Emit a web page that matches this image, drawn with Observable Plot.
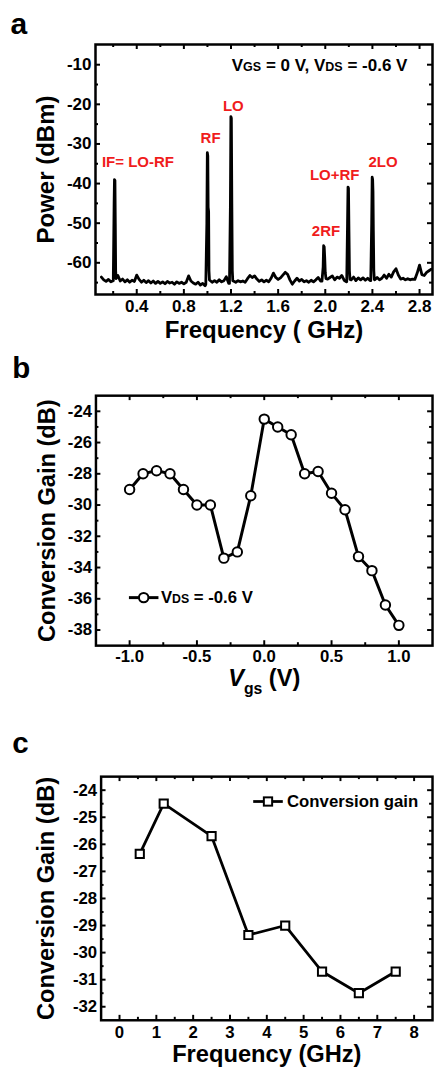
<!DOCTYPE html>
<html><head><meta charset="utf-8">
<script src="https://cdn.jsdelivr.net/npm/d3@7"></script>
<script src="https://cdn.jsdelivr.net/npm/@observablehq/plot@0.6"></script>
<style>
html,body{margin:0;padding:0;background:#fff;overflow:hidden;}
#wrap{position:relative;width:434px;height:1071px;overflow:hidden;background:#fff;}
#wrap svg{position:absolute;left:0;overflow:visible;}
</style></head><body><div id="wrap"></div>
<script>
// ---------- Panel a : spectrum ----------
const baseStart = 0.10, baseStep = 0.02;
const basePower = [
 -63.6,-64.3,-64.7,-64.2,-64.8,-64.5,null,-63.2,-64.6,-64.1,
 -64.8,-64.3,-64.9,-64.4,-64.7,-63.1,-64.2,-64.9,-64.4,-65.0,
 -64.5,-65.1,-64.6,-65.2,-64.7,-65.2,-64.8,-65.3,-64.7,-65.1,
 -64.9,-65.4,-64.8,-65.2,-64.9,-65.3,-64.9,-63.3,-64.6,-65.1,
 -65.4,-64.9,-65.6,-65.2,-65.8,null,-64.4,-64.9,-64.5,-64.9,
 -64.3,-64.8,-64.5,-63.5,-65.2,null,-64.6,-64.9,-64.5,-64.8,
 -64.6,-64.9,-64.0,-63.2,-63.7,-63.3,-64.1,-64.7,-64.3,-64.8,
 -64.4,-64.8,-63.9,-62.6,-63.7,-64.2,-63.8,-63.1,-62.4,-62.9,
 -64.3,-65.4,-64.6,-63.9,-64.6,-64.2,-64.8,-64.5,-64.9,-64.4,
 -64.8,-64.3,-63.7,-64.6,null,null,-64.1,-63.7,-63.3,-64.3,
 -63.6,-63.9,-63.2,-64.4,-64.8,null,-64.3,-63.6,-64.5,-63.8,
 -64.3,-63.8,-64.4,-63.9,-64.5,null,-64.3,-63.7,-64.3,-63.9,
 -63.1,-63.9,-62.9,-63.6,-62.3,-61.5,-63.1,-64.1,-63.9,-64.3,
 -64.0,-64.3,-64.1,-64.2,-62.6,-60.6,-63.0,-63.2,-62.4,-62.0,
 -61.6
];
const peakFreq = [
 0.201,0.208,0.211,0.215,0.218,0.221,0.225,
 0.986,0.995,0.999,1.003,1.006,1.010,1.013,1.017,
 1.187,1.195,1.199,1.203,1.207,1.211,1.215,
 1.972,1.982,1.986,1.991,1.995,2.000,2.006,
 2.182,2.189,2.193,2.197,2.201,2.205,2.210,
 2.386,2.394,2.398,2.402,2.405,2.408,2.412,2.416
];
const peakPower = [
 -64.5,-45,-39,-39.2,-50,-62,-64,
 -65.5,-50,-32.2,-33,-46,-47,-62,-64.3,
 -65.2,-45,-23.1,-23.5,-45,-62,-64.5,
 -64.6,-61,-55.7,-56,-58.5,-62.5,-64,
 -64.8,-50,-40.9,-41.2,-52,-62,-64.2,
 -64.5,-50,-38.4,-39,-42,-52,-62,-64.2
];
const peakNames = ["IF= LO-RF","RF","LO","2RF","LO+RF","2LO"];
const peakNameX = [0.41,1.027,1.22,2.006,2.08,2.49];
const peakNameY = [-34.6,-28.5,-20.5,-52.1,-37.9,-34.7];
const aXMajor = [0.4,0.8,1.2,1.6,2.0,2.4,2.8];
const aXMinor = [0.2,0.6,1.0,1.4,1.8,2.2,2.6];
const aYMajor = [-10,-20,-30,-40,-50,-60];
const aYMinor = [-15,-25,-35,-45,-55,-65];

// ---------- Panel b : conversion gain vs Vgs ----------
const vgs = [-1.0,-0.9,-0.8,-0.7,-0.6,-0.5,-0.4,-0.3,-0.2,-0.1,0.0,0.1,0.2,0.3,0.4,0.5,0.6,0.7,0.8,0.9,1.0];
const gainVgs = [-29.0,-28.0,-27.8,-28.0,-29.0,-30.0,-30.0,-33.4,-33.0,-29.4,-24.5,-25.0,-25.5,-28.0,-27.85,-29.25,-30.3,-33.3,-34.2,-36.4,-37.7];
const bXMajor = [-1.0,-0.5,0.0,0.5,1.0];
const bXMinor = [-0.75,-0.25,0.25,0.75];
const bYMajor = [-24,-26,-28,-30,-32,-34,-36,-38];
const bYMinor = [-25,-27,-29,-31,-33,-35,-37];

// ---------- Panel c : conversion gain vs frequency ----------
const freqC = [0.55,1.2,2.5,3.5,4.5,5.5,6.5,7.5];
const gainC = [-26.35,-24.5,-25.7,-29.35,-29.0,-30.7,-31.5,-30.7];
const cXMajor = [0,1,2,3,4,5,6,7,8];
const cXMinor = [0.5,1.5,2.5,3.5,4.5,5.5,6.5,7.5];
const cYMajor = [-24,-25,-26,-27,-28,-29,-30,-31,-32];
const cYMinor = [-24.5,-25.5,-26.5,-27.5,-28.5,-29.5,-30.5,-31.5];

const FONT = '"Liberation Sans", Arial, Helvetica, sans-serif';
const RED = "#f01c1c";
const STYLE = {fontFamily: FONT, fontWeight: "bold", background: "transparent", overflow: "visible"};

function frameTicks(xMajor, xMinor, yMajor, yMinor, plotW, plotH) {
  const sw = 2, maj = 5, mn = 3;
  const tx = (data, len) => [
    Plot.tickX(data, {x: d => d, stroke: "black", strokeWidth: sw, insetTop: plotH - len}),
    Plot.tickX(data, {x: d => d, stroke: "black", strokeWidth: sw, insetBottom: plotH - len})];
  const ty = (data, len) => [
    Plot.tickY(data, {y: d => d, stroke: "black", strokeWidth: sw, insetRight: plotW - len}),
    Plot.tickY(data, {y: d => d, stroke: "black", strokeWidth: sw, insetLeft: plotW - len})];
  return [...tx(xMajor, maj), ...tx(xMinor, mn), ...ty(yMajor, maj), ...ty(yMinor, mn)];
}

function rich(svg, match, parts) {
  d3.select(svg).selectAll("text").each(function() {
    if (this.textContent === match) {
      const t = d3.select(this);
      t.text(null);
      parts.forEach(p => {
        const s = t.append("tspan").text(p.t);
        if (p.size) s.attr("font-size", p.size);
        if (p.dy) s.attr("dy", p.dy);
        if (p.italic) s.attr("font-style", "italic");
      });
    }
  });
}

const wrap = document.getElementById("wrap");

// ----- build spectrum table -----
const spectrum = [];
basePower.forEach((p, i) => { if (p !== null) spectrum.push({f: +(baseStart + i * baseStep).toFixed(2), p}); });
peakFreq.forEach((f, i) => spectrum.push({f, p: peakPower[i]}));
spectrum.sort((a, b) => a.f - b.f);
const labelsA = peakNames.map((t, i) => ({t, x: peakNameX[i], y: peakNameY[i]}));

// ----- Panel a -----
{
  const W = 434, H = 345, mt = 44, mb = 51, ml = 95, mr = 2;
  const svg = Plot.plot({
    width: W, height: H, marginTop: mt, marginBottom: mb, marginLeft: ml, marginRight: mr,
    style: STYLE,
    x: {domain: [0.05, 2.91], label: null},
    y: {domain: [-68, -4.9], label: null},
    marks: [
      ...frameTicks(aXMajor, aXMinor, aYMajor, aYMinor, W - ml - mr, H - mt - mb),
      Plot.line(spectrum, {x: "f", y: "p", stroke: "black", strokeWidth: 2.8, strokeLinejoin: "round"}),
      Plot.frame({stroke: "black", strokeWidth: 2.5}),
      Plot.axisX(aXMajor, {tickSize: 0, tickPadding: 5.5, fontSize: 17, tickFormat: d => d.toFixed(1), label: null}),
      Plot.axisY(aYMajor, {tickSize: 0, tickPadding: 4, fontSize: 17, tickFormat: d => String(d), label: null}),
      Plot.text(labelsA, {x: "x", y: "y", text: "t", fill: RED, fontSize: 15, lineAnchor: "middle", textAnchor: "middle"}),
      Plot.text(["VGS = 0 V, VDS = -0.6 V"], {x: () => 2.697, y: () => -10.2, text: d => d, fontSize: 17, textAnchor: "end", lineAnchor: "middle"}),
      Plot.text(["Power (dBm)"], {frameAnchor: "left", dx: -49.3, rotate: -90, text: d => d, fontSize: 24, lineAnchor: "middle", textAnchor: "middle"}),
      Plot.text(["Frequency ( GHz)"], {frameAnchor: "bottom", dy: 43, text: d => d, fontSize: 24, lineAnchor: "bottom", textAnchor: "middle"}),
      Plot.text(["a"], {frameAnchor: "top-left", dx: -85, dy: -11, text: d => d, fontSize: 30, lineAnchor: "bottom", textAnchor: "start"})
    ]
  });
  rich(svg, "VGS = 0 V, VDS = -0.6 V", [{t: "V"}, {t: "GS", size: 12.5}, {t: " = 0 V, V"}, {t: "DS", size: 12.5}, {t: " = -0.6 V"}]);
  svg.style.top = "0px";
  wrap.appendChild(svg);
}

// ----- Panel b -----
{
  const W = 441, H = 370, mt = 51, mb = 65, ml = 97, mr = 2;
  const dataB = vgs.map((v, i) => ({v, g: gainVgs[i]}));
  const svg = Plot.plot({
    width: W, height: H, marginTop: mt, marginBottom: mb, marginLeft: ml, marginRight: mr,
    style: STYLE,
    x: {domain: [-1.25, 1.25], label: null},
    y: {domain: [-39, -23], label: null},
    marks: [
      ...frameTicks(bXMajor, bXMinor, bYMajor, bYMinor, W - ml - mr, H - mt - mb),
      Plot.frame({stroke: "black", strokeWidth: 2.5}),
      Plot.line(dataB, {x: "v", y: "g", stroke: "black", strokeWidth: 3}),
      Plot.dot(dataB, {x: "v", y: "g", r: 4.8, fill: "white", stroke: "black", strokeWidth: 2}),
      Plot.axisX(bXMajor, {tickSize: 0, tickPadding: 5, fontSize: 17, tickFormat: d => d.toFixed(1), label: null}),
      Plot.axisY(bYMajor, {tickSize: 0, tickPadding: 4, fontSize: 17, tickFormat: d => String(d), label: null}),
      Plot.text(["Conversion Gain (dB)"], {frameAnchor: "left", dx: -49.5, rotate: -90, text: d => d, fontSize: 24, lineAnchor: "middle", textAnchor: "middle"}),
      Plot.text(["Vgs (V)"], {frameAnchor: "bottom", dy: 41, text: d => d, fontSize: 24, lineAnchor: "bottom", textAnchor: "middle"}),
      Plot.text(["b"], {frameAnchor: "top-left", dx: -85, dy: -18, text: d => d, fontSize: 30, lineAnchor: "bottom", textAnchor: "start"})
    ]
  });
  rich(svg, "Vgs (V)", [{t: "V", italic: true}, {t: "gs", size: 16, dy: 8}, {t: " (V)", dy: -8}]);
  // legend
  const g = d3.select(svg).append("g");
  const ly = 256.7;
  g.append("line").attr("x1", 131).attr("x2", 161).attr("y1", ly).attr("y2", ly).attr("stroke", "black").attr("stroke-width", 3);
  g.append("circle").attr("cx", 146).attr("cy", ly).attr("r", 4.8).attr("fill", "white").attr("stroke", "black").attr("stroke-width", 2);
  const t = g.append("text").attr("x", 163.5).attr("y", ly).attr("dy", "0.35em").attr("font-size", 17).attr("text-anchor", "start");
  t.append("tspan").text("V");
  t.append("tspan").attr("font-size", 12.5).text("DS");
  t.append("tspan").text(" = -0.6 V");
  svg.style.top = "345px";
  wrap.appendChild(svg);
}

// ----- Panel c -----
{
  const W = 440, H = 356, mt = 62, mb = 47, ml = 102, mr = 2;
  const dataC = freqC.map((f, i) => ({f, g: gainC[i]}));
  const svg = Plot.plot({
    width: W, height: H, marginTop: mt, marginBottom: mb, marginLeft: ml, marginRight: mr,
    style: STYLE,
    x: {domain: [-0.5, 8.5], label: null},
    y: {domain: [-32.5, -23.5], label: null},
    marks: [
      ...frameTicks(cXMajor, cXMinor, cYMajor, cYMinor, W - ml - mr, H - mt - mb),
      Plot.frame({stroke: "black", strokeWidth: 2.5}),
      Plot.line(dataC, {x: "f", y: "g", stroke: "black", strokeWidth: 2.8}),
      Plot.dot(dataC, {x: "f", y: "g", symbol: "square", r: 4.7, fill: "white", stroke: "black", strokeWidth: 2}),
      Plot.axisX(cXMajor, {tickSize: 0, tickPadding: 6, fontSize: 17, tickFormat: d => String(d), label: null}),
      Plot.axisY(cYMajor, {tickSize: 0, tickPadding: 4, fontSize: 17, tickFormat: d => String(d), label: null}),
      Plot.text(["Conversion Gain (dB)"], {frameAnchor: "left", dx: -55, rotate: -90, text: d => d, fontSize: 24, lineAnchor: "middle", textAnchor: "middle"}),
      Plot.text(["Frequency (GHz)"], {frameAnchor: "bottom", dy: 42, text: d => d, fontSize: 24, lineAnchor: "bottom", textAnchor: "middle"}),
      Plot.text(["c"], {frameAnchor: "top-left", dx: -90, dy: -23.7, text: d => d, fontSize: 30, lineAnchor: "bottom", textAnchor: "start"})
    ]
  });
  const g = d3.select(svg).append("g");
  const ly = 87.7;
  g.append("line").attr("x1", 256.7).attr("x2", 286.7).attr("y1", ly).attr("y2", ly).attr("stroke", "black").attr("stroke-width", 2.8);
  g.append("rect").attr("x", 271.7 - 4.2).attr("y", ly - 4.2).attr("width", 8.4).attr("height", 8.4).attr("fill", "white").attr("stroke", "black").attr("stroke-width", 2);
  g.append("text").attr("x", 291).attr("y", ly).attr("dy", "0.35em").attr("font-size", 17).attr("text-anchor", "start").text("Conversion gain");
  svg.style.top = "715px";
  wrap.appendChild(svg);
}
</script></body></html>
